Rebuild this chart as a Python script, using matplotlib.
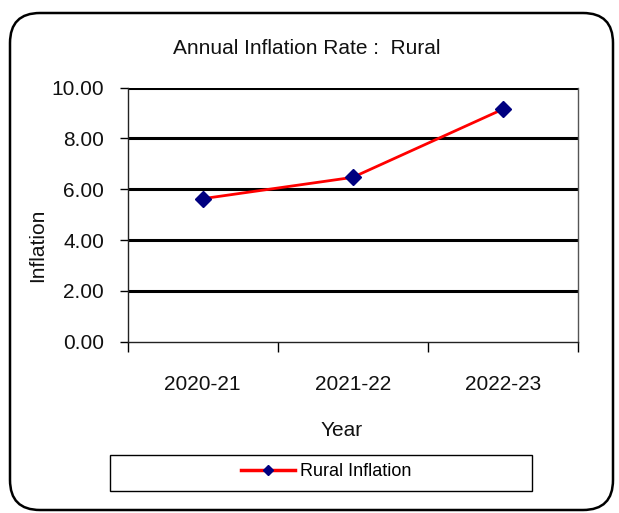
import matplotlib
matplotlib.use("Agg")
import matplotlib.pyplot as plt
from matplotlib.patches import FancyBboxPatch, Rectangle
from matplotlib.lines import Line2D
import numpy as np

years = ["2020-21", "2021-22", "2022-23"]
rural_inflation = [5.63, 6.47, 9.15]
y_ticks = [0, 2, 4, 6, 8, 10]
title = "Annual Inflation Rate :  Rural"
series_name = "Rural Inflation"

plt.rcParams['font.family'] = ['Liberation Sans', 'DejaVu Sans']

W, H = 619, 513
fig = plt.figure(figsize=(W / 100, H / 100), dpi=100)
fig.patch.set_facecolor("white")

# outer rounded border
border = FancyBboxPatch((10, H - 510), 603, 497,
                        boxstyle="round,pad=0,rounding_size=30",
                        transform=None, facecolor="none",
                        edgecolor="black", linewidth=1.8)
fig.patches.append(border)

ax = fig.add_axes([127.7 / W, 1 - 341.7 / H, 450 / W, (341.7 - 87.7) / H])
x = np.arange(len(years))
ax.plot(x, rural_inflation, color="#ff0000", linewidth=2.0, marker="D",
        markersize=8, markerfacecolor="#000080", markeredgecolor="#000080",
        zorder=5, label=series_name)

ax.set_xlim(-0.5, len(years) - 0.5)
ax.set_ylim(0, 10)
ax.set_yticks(y_ticks)
ax.set_yticklabels([f"{v:.2f}" for v in y_ticks], fontsize=15, color="#111111")
ax.set_xticks(x)
ax.set_xticklabels(years, fontsize=15, color="#111111")
ax.set_xticks(np.arange(-0.5, len(years)), minor=True)
ax.tick_params(axis="x", which="major", length=0, pad=24)
ax.tick_params(axis="x", which="minor", length=7, width=1, direction="out")
ax.tick_params(axis="y", length=6, width=1, direction="out", pad=11)

for v in y_ticks[1:]:
    ax.axhline(v, color="black", linewidth=2.2, zorder=2)

ax.spines["top"].set_visible(False)
ax.spines["left"].set_color("#222222")
ax.spines["left"].set_linewidth(1.0)
ax.spines["bottom"].set_color("#222222")
ax.spines["bottom"].set_linewidth(1.0)
ax.spines["right"].set_color("#555555")
ax.spines["right"].set_linewidth(1.0)

fig.text(307 / W, 1 - 48 / H, title, ha="center", va="center", fontsize=15,
         color="#111111")
fig.text(342 / W, 1 - 430 / H, "Year", ha="center", va="center", fontsize=15,
         color="#111111")
fig.text(38 / W, 1 - 245 / H, "Inflation", ha="center", va="center",
         rotation=90, fontsize=15, color="#111111")

# legend box
fig.patches.append(Rectangle((110, H - 491), 422, 36, transform=None,
                             facecolor="white", edgecolor="black", linewidth=1.0))
handle = Line2D([], [], color="#ff0000", linewidth=2.5, marker="D", markersize=5,
                markerfacecolor="#000080", markeredgecolor="#000080")
fig.legend([handle], [series_name], loc="center",
           bbox_to_anchor=(326 / W, 1 - 472 / H), frameon=False,
           fontsize=13, handlelength=3.0, handletextpad=0.3)

fig.savefig("out.png", dpi=100)
